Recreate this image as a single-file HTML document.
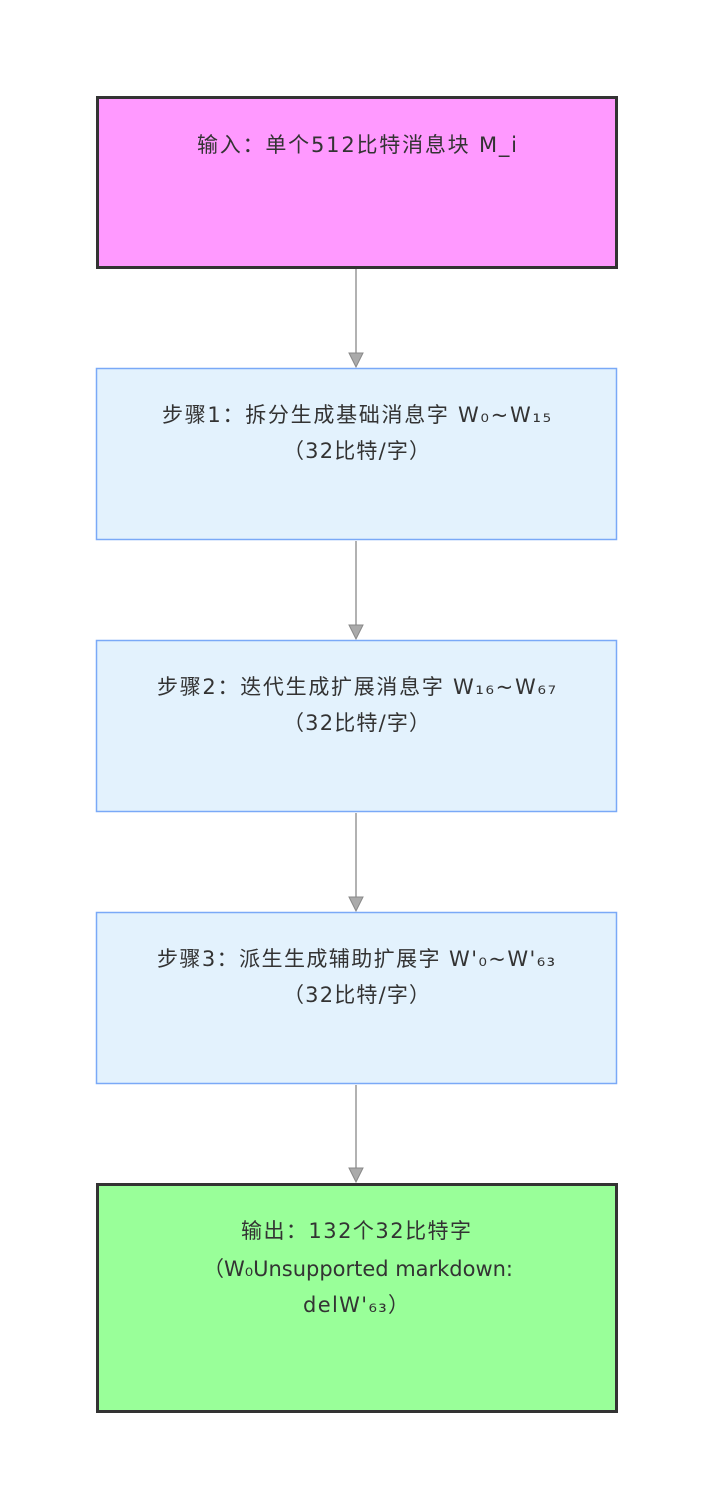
<!DOCTYPE html>
<html><head><meta charset="utf-8"><style>
html,body{margin:0;padding:0;background:#fff;width:712px;height:1508px;overflow:hidden}
svg{display:block}
text{font-family:"DejaVu Sans","Noto Sans CJK SC",sans-serif;font-size:21px;fill:#333}
</style></head><body>
<svg width="712" height="1508" viewBox="0 0 712 1508">
<g stroke="#999" stroke-width="1.5">
<line x1="356" y1="269" x2="356" y2="356"/>
<line x1="356" y1="541" x2="356" y2="628"/>
<line x1="356" y1="813" x2="356" y2="900"/>
<line x1="356" y1="1085" x2="356" y2="1171"/>
</g>
<g fill="#aaa" stroke="#888" stroke-width="1">
<polygon points="349,353 363,353 356,367"/>
<polygon points="349,625 363,625 356,639"/>
<polygon points="349,897 363,897 356,911"/>
<polygon points="349,1168 363,1168 356,1182"/>
</g>
<rect x="97.5" y="97.5" width="519" height="170" fill="#ff99ff" stroke="#333" stroke-width="3"/>
<rect x="96.5" y="368.5" width="520" height="171" fill="#e3f2fd" stroke="#7aa9f7" stroke-width="1.5"/>
<rect x="96.5" y="640.5" width="520" height="171" fill="#e3f2fd" stroke="#7aa9f7" stroke-width="1.5"/>
<rect x="96.5" y="912.5" width="520" height="171" fill="#e3f2fd" stroke="#7aa9f7" stroke-width="1.5"/>
<rect x="97.5" y="1184.5" width="519" height="227" fill="#99ff99" stroke="#333" stroke-width="3"/>
<text x="197" y="152" textLength="320" lengthAdjust="spacing">输入：单个512比特消息块 M_i</text>
<text x="162" y="422" textLength="389" lengthAdjust="spacing">步骤1：拆分生成基础消息字 W₀~W₁₅</text>
<text x="283" y="458" textLength="147" lengthAdjust="spacing">（32比特/字）</text>
<text x="157" y="694" textLength="399" lengthAdjust="spacing">步骤2：迭代生成扩展消息字 W₁₆~W₆₇</text>
<text x="283" y="730" textLength="147" lengthAdjust="spacing">（32比特/字）</text>
<text x="157" y="966" textLength="398" lengthAdjust="spacing">步骤3：派生生成辅助扩展字 W'₀~W'₆₃</text>
<text x="283" y="1002" textLength="147" lengthAdjust="spacing">（32比特/字）</text>
<text x="241" y="1238" textLength="230" lengthAdjust="spacing">输出：132个32比特字</text>
<text x="203" y="1276" textLength="310" lengthAdjust="spacing">（W₀Unsupported markdown:</text>
<text x="303" y="1312" textLength="106" lengthAdjust="spacing">delW'₆₃）</text>
</svg>
</body></html>
